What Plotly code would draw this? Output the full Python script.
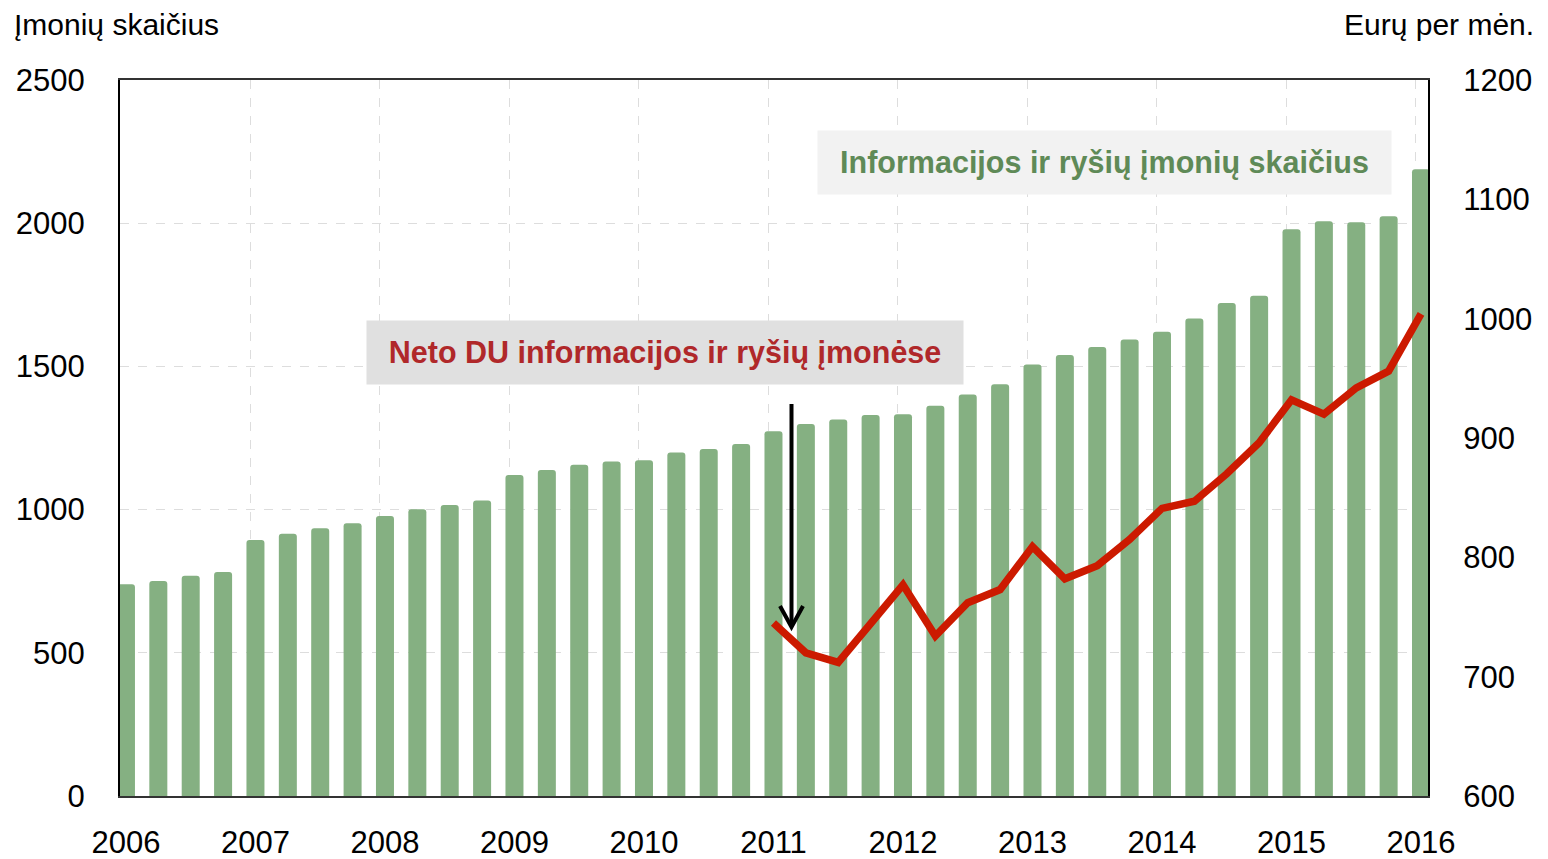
import plotly.graph_objects as go

# ---- data ----
years = list(range(2006, 2017))
quarters_x = [2006 + i * 0.25 for i in range(41)]  # 2006Q1 .. 2016Q1
firms = [739, 751, 769, 782, 894, 916, 935, 952, 978, 1001, 1016, 1032,
         1121, 1138, 1157, 1168, 1172, 1199, 1212, 1229, 1274, 1299, 1315, 1330,
         1333, 1363, 1402, 1438, 1507, 1540, 1568, 1594, 1621, 1667, 1721, 1747,
         1979, 2007, 2003, 2024, 2188]
wage_x = [2011 + i * 0.25 for i in range(21)]  # 2011Q1 .. 2016Q1
wages = [745, 720, 712, 744, 777, 734, 762, 773, 809, 782, 793, 815,
         841, 847, 870, 896, 932, 920, 942, 956, 1004]
left_ticks = [0, 500, 1000, 1500, 2000, 2500]
right_ticks = [600, 700, 800, 900, 1000, 1100, 1200]
label_firms = "Informacijos ir ryšių įmonių skaičius"
label_wages = "Neto DU informacijos ir ryšių įmonėse"
title_left = "Įmonių skaičius"
title_right = "Eurų per mėn."

OFF = 8  # page body margin
W, H = 1548 - OFF, 859 - OFF
L, R, T, B = 120, 1428, 80, 796  # plot area in page pixels
FONT = "Liberation Sans, Arial, sans-serif"
TICK = 31


def px(x):
    return (x - L) / (R - L)


def py(y):
    return (B - y) / (B - T)


fig = go.Figure()
fig.add_trace(go.Bar(
    x=quarters_x, y=firms, width=0.139,
    marker=dict(color="#85B082", line=dict(width=0), cornerradius=3),
    name=label_firms, yaxis="y"))
fig.add_trace(go.Scatter(
    x=wage_x, y=wages, mode="lines",
    line=dict(color="#CC1A00", width=7.5),
    name=label_wages, yaxis="y2"))

fig.update_layout(
    width=W, height=H,
    margin=dict(l=L - OFF, r=1548 - R, t=T - OFF, b=859 - B, pad=0, autoexpand=False),
    plot_bgcolor="white", paper_bgcolor="white",
    showlegend=False,
    font=dict(family=FONT, color="black", size=TICK),
    xaxis=dict(
        range=[2005.954, 2016.054], tickvals=years, ticktext=[str(y) for y in years],
        showgrid=False, zeroline=False, ticks="", ticklabelstandoff=18,
        showline=True, linecolor="#333333", linewidth=2, mirror=True, automargin=False,
        minor=dict(tick0=2005.96, dtick=1, showgrid=True, gridcolor="#DDDDDD",
                   griddash="dash", gridwidth=1),
        tickfont=dict(size=TICK),
    ),
    yaxis=dict(
        range=[0, 2500], tickvals=left_ticks, showgrid=True, gridcolor="#DDDDDD",
        griddash="dash", gridwidth=1, zeroline=False, ticks="", ticklabelstandoff=27,
        showline=True, linecolor="black", linewidth=2, automargin=False,
        tickfont=dict(size=TICK),
    ),
    yaxis2=dict(
        range=[600, 1200], tickvals=right_ticks, overlaying="y", side="right",
        showgrid=False, zeroline=False, ticks="", ticklabelstandoff=27,
        showline=True, linecolor="black", linewidth=2, automargin=False,
        tickfont=dict(size=TICK),
    ),
)

# axis titles
fig.add_annotation(text=title_left, xref="paper", yref="paper",
                   x=px(12), y=py(6), xanchor="left", yanchor="top",
                   showarrow=False, font=dict(size=30))
fig.add_annotation(text=title_right, xref="paper", yref="paper",
                   x=px(1536), y=py(6), xanchor="right", yanchor="top",
                   showarrow=False, font=dict(size=30))

# label boxes
fig.add_annotation(text="<b>" + label_firms + "</b>", xref="paper", yref="paper",
                   x=px(1104.5), y=py(162.5), xanchor="center", yanchor="middle",
                   width=573, height=63, bgcolor="#F2F2F2", borderpad=0,
                   showarrow=False, font=dict(size=30.5, color="#5F8A57"))
fig.add_annotation(text="<b>" + label_wages + "</b>", xref="paper", yref="paper",
                   x=px(665), y=py(352.5), xanchor="center", yanchor="middle",
                   width=596, height=63, bgcolor="#E0E0E0", borderpad=0,
                   showarrow=False, font=dict(size=30.5, color="#B0282A"))

# arrow
fig.add_shape(type="line", xref="paper", yref="paper",
              x0=px(791.5), y0=py(404), x1=px(791.5), y1=py(624),
              line=dict(color="black", width=4))
fig.add_shape(type="path", xref="paper", yref="paper",
              path=f"M {px(780)},{py(606)} L {px(791.5)},{py(627)} L {px(803)},{py(606)}",
              line=dict(color="black", width=4))

fig.write_html("out.html")
